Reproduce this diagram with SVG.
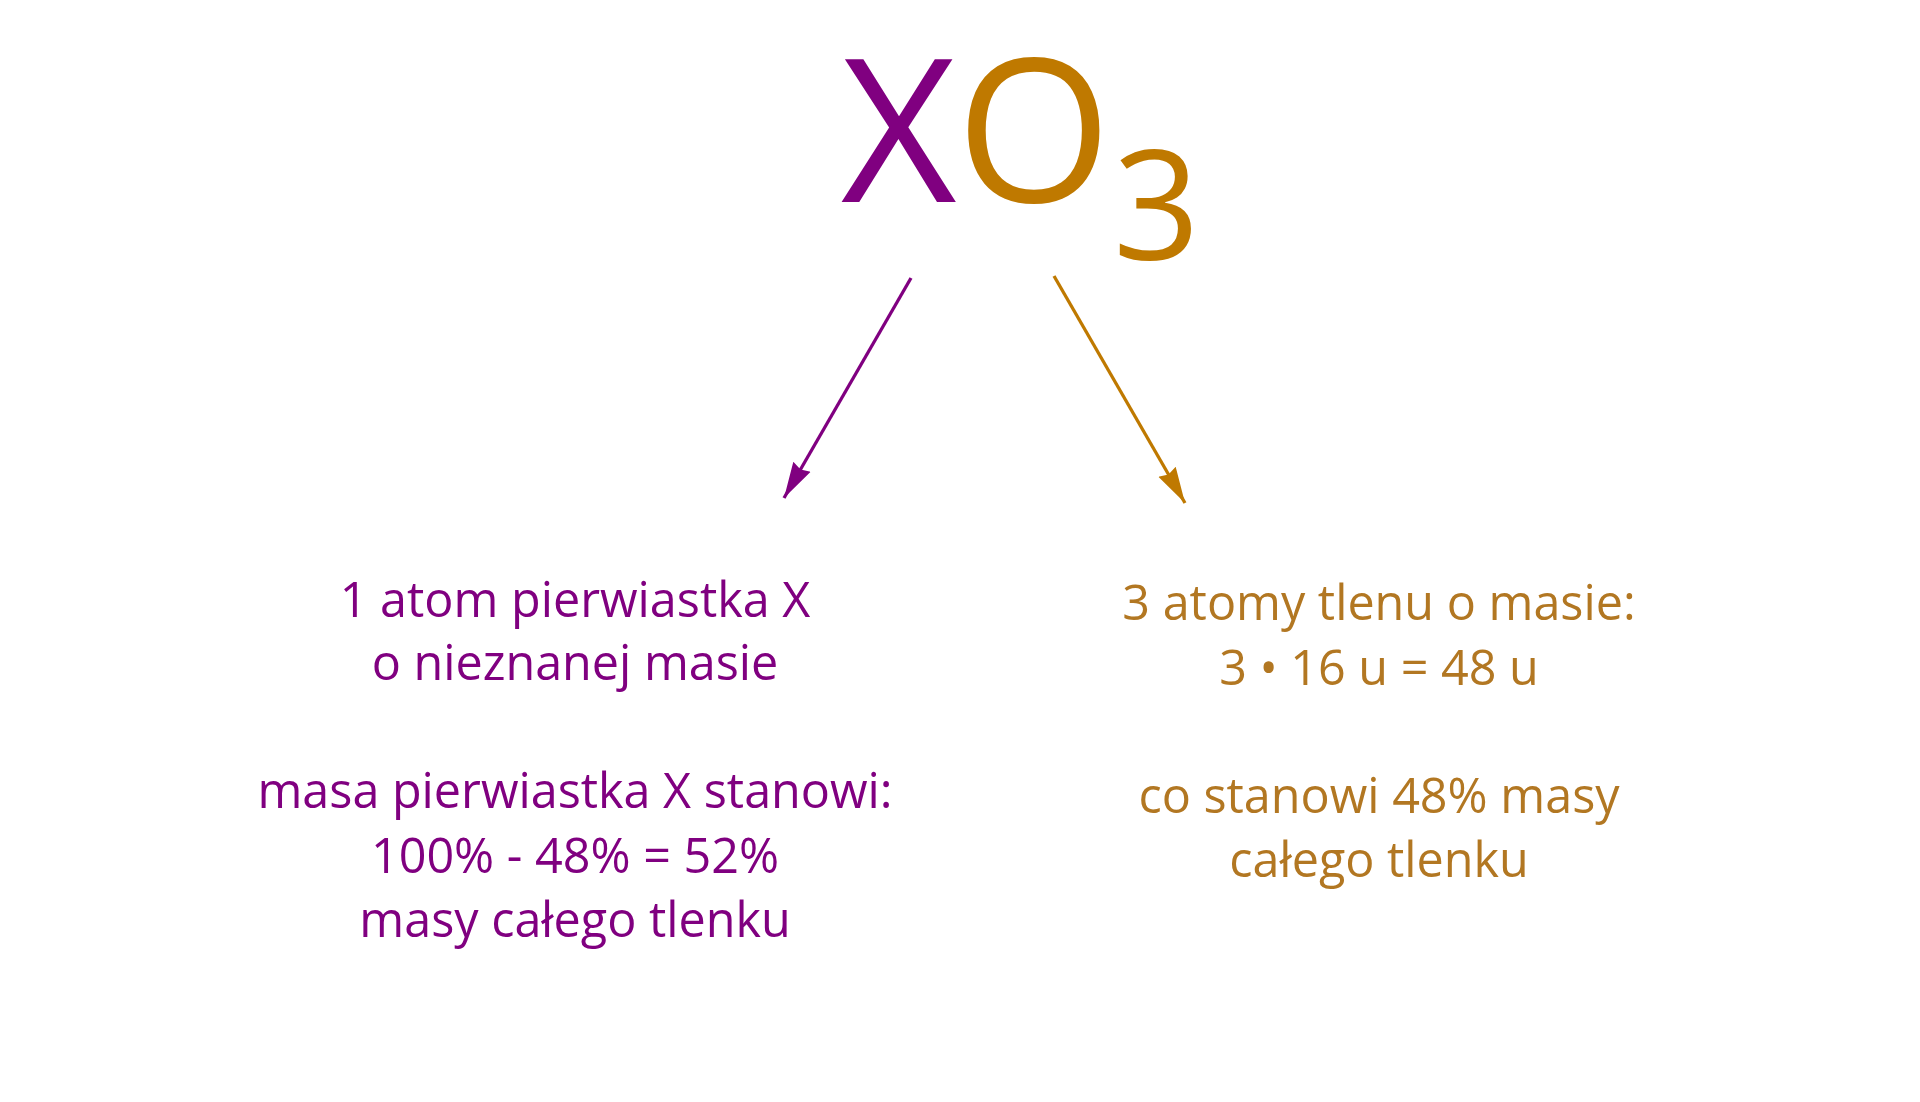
<svg xmlns="http://www.w3.org/2000/svg" width="1920" height="1102" viewBox="0 0 1920 1102">
<style>
  .t { font-family: "Open Sans", "Liberation Sans", sans-serif; text-anchor: middle; }
  .f { font-family: "Open Sans", "Liberation Sans", sans-serif; }
  .p { fill: #800080; }
  .g { fill: #b27722; }
  .o { fill: #bf7900; }
  .body { font-size: 48.5px; }
</style>
<defs>
  <marker id="ap" markerUnits="userSpaceOnUse" markerWidth="40" markerHeight="24" refX="36" refY="10" orient="auto" viewBox="0 0 40 20">
    <path d="M0,0 L36,10 L0,20 L3,10 Z" fill="#800080"/>
  </marker>
  <marker id="ag" markerUnits="userSpaceOnUse" markerWidth="40" markerHeight="24" refX="36" refY="10" orient="auto" viewBox="0 0 40 20">
    <path d="M0,0 L36,10 L0,20 L3,10 Z" fill="#bf7900"/>
  </marker>
</defs>
<rect width="1920" height="1102" fill="#ffffff"/>
<g id="formula" class="f">
  <text x="841" y="202" font-size="200" class="p">X</text>
  <text x="956" y="202" font-size="200" class="o">O</text>
  <text x="1113" y="260" font-size="152" class="o">3</text>
</g>
<g id="connectors" stroke-width="3.3" fill="none">
  <line x1="911" y1="278" x2="784" y2="498" stroke="#800080" marker-end="url(#ap)"/>
  <line x1="1054" y1="276" x2="1185" y2="503" stroke="#bf7900" marker-end="url(#ag)"/>
</g>
<g id="left-node" class="t p body">
  <text x="575" y="617">1 atom pierwiastka X</text>
  <text x="575" y="680">o nieznanej masie</text>
  <text x="575" y="808">masa pierwiastka X stanowi:</text>
  <text x="575" y="873">100% - 48% = 52%</text>
  <text x="575" y="937">masy całego tlenku</text>
</g>
<g id="right-node" class="t g body">
  <text x="1379" y="620">3 atomy tlenu o masie:</text>
  <text x="1379" y="685">3 • 16 u = 48 u</text>
  <text x="1379" y="813">co stanowi 48% masy</text>
  <text x="1379" y="877">całego tlenku</text>
</g>
</svg>
